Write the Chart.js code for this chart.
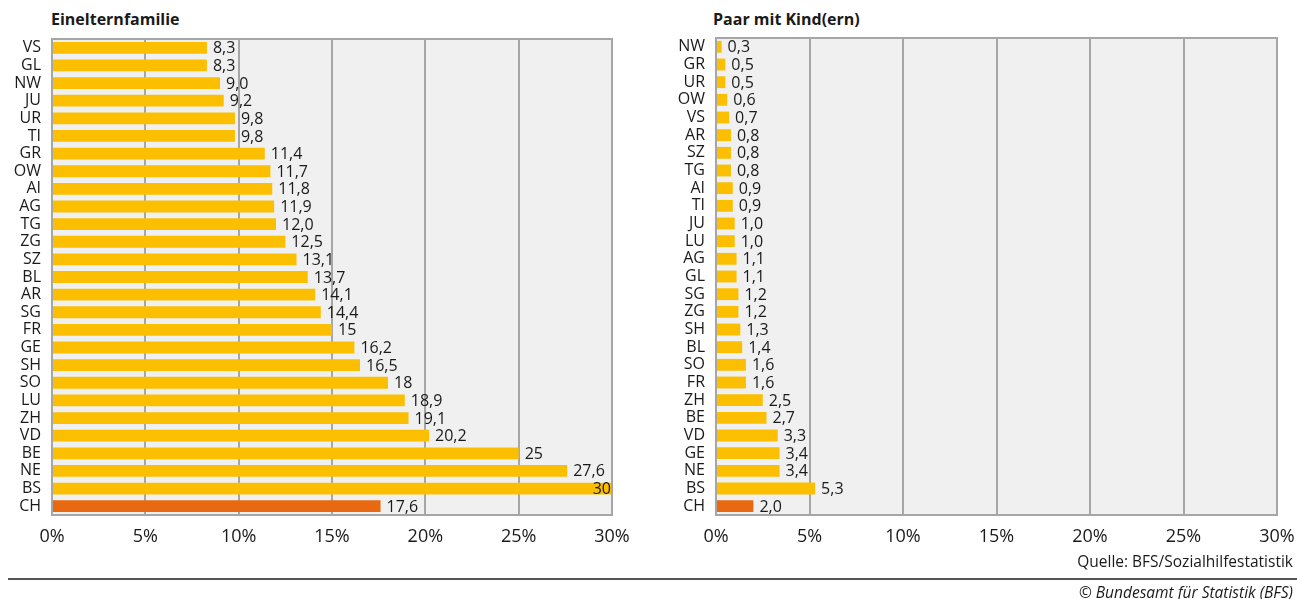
<!DOCTYPE html>
<html>
<head>
<meta charset="utf-8">
<script src="https://cdn.jsdelivr.net/npm/chart.js@4"></script>
<style>
  body { margin: 0; background: #fff; font-family: "Open Sans", sans-serif; color: #1a1a1a; }
  #wrap { position: relative; width: 1297px; height: 599px; overflow: hidden; }
  .title { position: absolute; top: 8px; font-weight: bold; font-size: 16px; }
  .cv { position: absolute; top: 0; }
  #rule { position: absolute; left: 8px; right: 0; top: 578px; height: 2px; background: #555; }
  #src { position: absolute; right: 4px; top: 550px; font-size: 15.5px; }
  #copy { position: absolute; right: 4px; top: 581px; font-size: 15.5px; font-style: italic; }
</style>
</head>
<body>
<div id="wrap">
  <div class="title" style="left:51px">Einelternfamilie</div>
  <div class="title" style="left:713px">Paar mit Kind(ern)</div>
  <div class="cv" style="left:0;width:660px;height:560px"><canvas id="left"></canvas></div>
  <div class="cv" style="left:660px;width:637px;height:560px"><canvas id="right"></canvas></div>
  <div id="src">Quelle: BFS/Sozialhilfestatistik</div>
  <div id="rule"></div>
  <div id="copy">© Bundesamt für Statistik (BFS)</div>
</div>
<script>
// Einelternfamilie
const einCantons = ['VS','GL','NW','JU','UR','TI','GR','OW','AI','AG','TG','ZG','SZ','BL','AR','SG','FR','GE','SH','SO','LU','ZH','VD','BE','NE','BS','CH'];
const einValues = [8.3,8.3,9.0,9.2,9.8,9.8,11.4,11.7,11.8,11.9,12.0,12.5,13.1,13.7,14.1,14.4,15,16.2,16.5,18,18.9,19.1,20.2,25,27.6,30,17.6];
const einText = ['8,3','8,3','9,0','9,2','9,8','9,8','11,4','11,7','11,8','11,9','12,0','12,5','13,1','13,7','14,1','14,4','15','16,2','16,5','18','18,9','19,1','20,2','25','27,6','30','17,6'];

// Paar mit Kind(ern)
const paarCantons = ['NW','GR','UR','OW','VS','AR','SZ','TG','AI','TI','JU','LU','AG','GL','SG','ZG','SH','BL','SO','FR','ZH','BE','VD','GE','NE','BS','CH'];
const paarValues = [0.3,0.5,0.5,0.6,0.7,0.8,0.8,0.8,0.9,0.9,1.0,1.0,1.1,1.1,1.2,1.2,1.3,1.4,1.6,1.6,2.5,2.7,3.3,3.4,3.4,5.3,2.0];
const paarText = ['0,3','0,5','0,5','0,6','0,7','0,8','0,8','0,8','0,9','0,9','1,0','1,0','1,1','1,1','1,2','1,2','1,3','1,4','1,6','1,6','2,5','2,7','3,3','3,4','3,4','5,3','2,0'];

const xTicks = [0, 5, 10, 15, 20, 25, 30];

const YELLOW = '#fbbf00';
const ORANGE = '#e8690f';
const GRID = '#a6a6a6';
const FONT = '"Open Sans", sans-serif';

// plot background, frame and value labels
const framePlugin = {
  id: 'frame',
  beforeDraw(chart) {
    const a = chart.chartArea, ctx = chart.ctx;
    ctx.save();
    ctx.fillStyle = '#eff0ef';
    ctx.fillRect(a.left, a.top, a.right - a.left, a.bottom - a.top);
    ctx.restore();
  },
  afterDatasetsDraw(chart) {
    const a = chart.chartArea, ctx = chart.ctx;
    const texts = chart.options.plugins.frame.texts;
    ctx.save();
    ctx.font = '16px ' + FONT;
    ctx.fillStyle = '#1a1a1a';
    ctx.textBaseline = 'middle';
    chart.getDatasetMeta(0).data.forEach((bar, i) => {
      const t = texts[i];
      const w = ctx.measureText(t).width;
      if (bar.x + 6 + w > a.right) {
        ctx.textAlign = 'right';
        ctx.fillText(t, a.right - 1, bar.y + 1);
      } else {
        ctx.textAlign = 'left';
        ctx.fillText(t, bar.x + 6, bar.y + 1);
      }
    });
    ctx.strokeStyle = GRID;
    ctx.lineWidth = 2;
    ctx.strokeRect(a.left, a.top, a.right - a.left, a.bottom - a.top);
    ctx.restore();
  }
};

function makeChart(id, cats, vals, texts, yWidth, pad) {
  return new Chart(document.getElementById(id), {
    type: 'bar',
    data: {
      labels: cats,
      datasets: [{
        data: vals,
        backgroundColor: cats.map(c => c === 'CH' ? ORANGE : YELLOW),
        barPercentage: 0.67,
        categoryPercentage: 1
      }]
    },
    options: {
      indexAxis: 'y',
      responsive: true,
      maintainAspectRatio: false,
      animation: false,
      layout: { padding: pad },
      plugins: {
        legend: { display: false },
        tooltip: { enabled: false },
        frame: { texts: texts }
      },
      scales: {
        x: {
          min: 0, max: 30,
          afterBuildTicks: s => { s.ticks = xTicks.map(v => ({ value: v })); },
          afterFit: s => { s.height = 45; s.paddingLeft = 0; s.paddingRight = 0; },
          grid: { color: GRID, lineWidth: 2, drawTicks: false },
          border: { display: false },
          ticks: {
            padding: 11,
            color: '#1a1a1a',
            font: { family: FONT, size: 18 },
            callback: v => v + '%'
          }
        },
        y: {
          afterFit: s => { s.width = yWidth; s.paddingTop = 0; s.paddingBottom = 0; },
          grid: { display: false, drawTicks: false },
          border: { display: false },
          ticks: {
            autoSkip: false,
            padding: 11,
            color: '#1a1a1a',
            font: { family: FONT, size: 16 }
          }
        }
      }
    },
    plugins: [framePlugin]
  });
}

makeChart('left', einCantons, einValues, einText, 52, { top: 39, right: 48, left: 0, bottom: 0 });
makeChart('right', paarCantons, paarValues, paarText, 56, { top: 38, right: 20, left: 0, bottom: 0 });
</script>
</body>
</html>
